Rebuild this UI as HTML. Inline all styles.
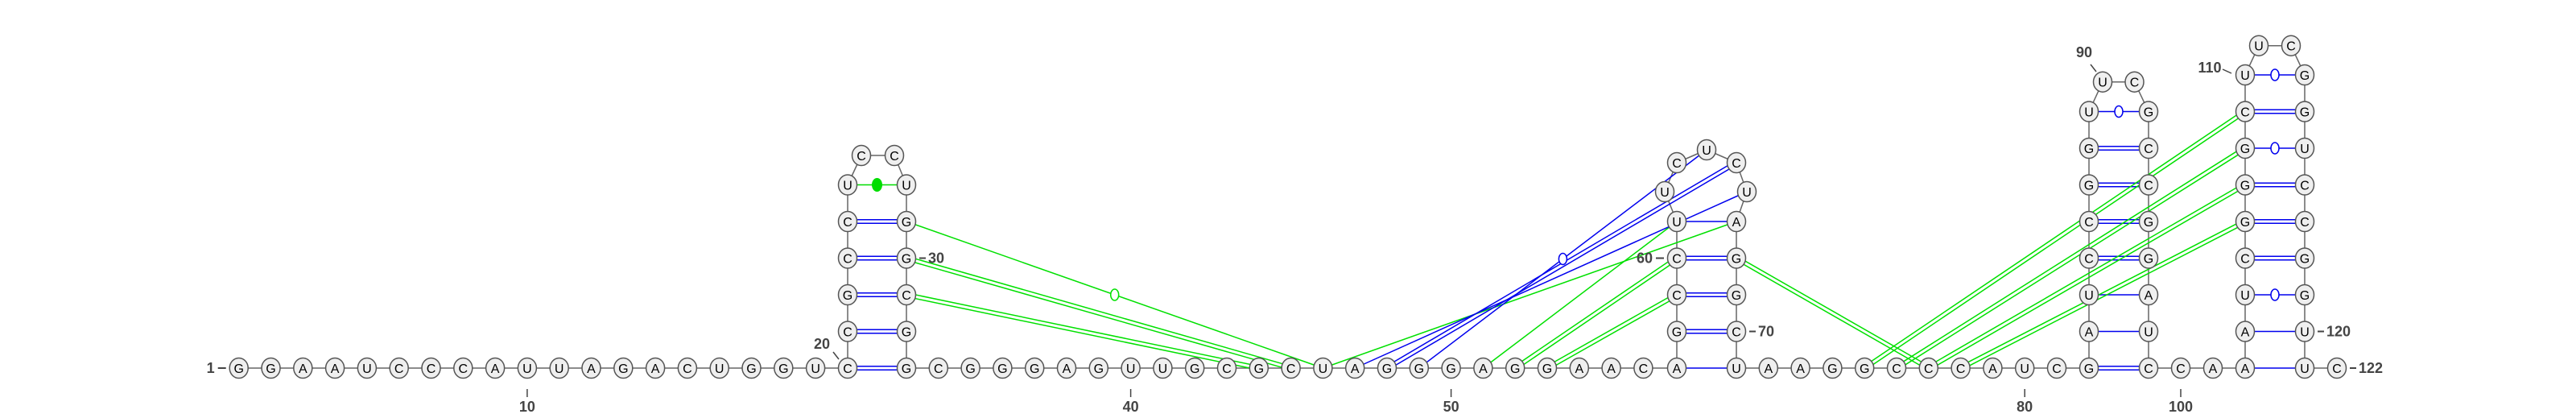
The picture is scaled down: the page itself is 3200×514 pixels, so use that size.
<!DOCTYPE html>
<html><head><meta charset="utf-8"><style>
html,body{margin:0;padding:0;background:#fff;}
svg{display:block;}
.nt text{font-family:"Liberation Sans",sans-serif;font-size:16px;fill:#000;}
.lbl{font-family:"Liberation Sans",sans-serif;font-size:18px;font-weight:bold;fill:#444;}
</style></head><body>
<svg id="chart" width="3200" height="514" viewBox="0 0 3200 514" xmlns="http://www.w3.org/2000/svg">
<g id="bb"></g>
<g id="pairs"></g>
<g id="nts"></g>
<g id="labels"></g>
</svg>
<script>
const sequence = "GGAAUCCCAUUAGACUGGU" + "CCGCCUCCUGGCGG" + "CGGGAGUUGCGCUAGGGAGGAACA" + "GCCUUCUCUAGGCU" + "AAGGCCCAUCG" + "AUCCGGUUCGCCGGAUC" + "CAAAUCGGGCUUCGGUCCGGUUC";
const stemPairs = [[20,33],[21,32],[22,31],[23,30],[24,29],[25,28],[57,71],[58,70],[59,69],[60,68],[61,67],
 [82,99],[83,98],[84,97],[85,96],[86,95],[87,94],[88,93],[89,92],
 [102,121],[103,120],[104,119],[105,118],[106,117],[107,116],[108,115],[109,114],[110,113]];
const greenPairs = [[29,46,"circle"],[30,45,"double"],[31,44,"double"],[46,67,"single"],[51,61,"single"],[52,60,"double"],[53,59,"double"],
 [68,77,"double"],[75,109,"double"],[76,108,"double"],[77,107,"double"],[78,106,"double"]];
const bluePairs = [[47,66,"single"],[48,65,"double"],[49,64,"circle"]];
const sideLabels = [[1,"1",-1],[30,"30",1],[60,"60",-1],[70,"70",1],[120,"120",1],[122,"122",1]];
const tickLabels = [[10,"10"],[40,"40"],[50,"50"],[80,"80"],[100,"100"]];

const STEP=39.8, ROW=45.5, BASE=457;
const P={};
function row(k){return BASE-k*ROW;}
for(let i=1;i<=20;i++)P[i]=[296.7+(i-1)*STEP,BASE];
function stem(l,r,lx,rx,n){for(let k=0;k<n;k++){P[l+k]=[lx,row(k)];P[r-k]=[rx,row(k)];}}
stem(20,33,1053,1126,6);
P[26]=[1070,193];P[27]=[1111,193];
for(let i=34;i<=57;i++)P[i]=[1126+(i-33)*STEP,BASE];
stem(57,71,2083,2157,5);
P[62]=[2068,238];P[63]=[2083,202];P[64]=[2120,186];P[65]=[2157,202];P[66]=[2170,238];
for(let i=72;i<=82;i++)P[i]=[2157+(i-71)*STEP,BASE];
stem(82,99,2595,2669,8);
P[90]=[2612,101.7];P[91]=[2651.5,101.7];
P[100]=[2709,BASE];P[101]=[2749,BASE];
stem(102,121,2789,2863,9);
P[111]=[2806,56.7];P[112]=[2846,56.7];
P[122]=[2903,BASE];

const NS="http://www.w3.org/2000/svg";
function mk(t,a,parent){const e=document.createElementNS(NS,t);for(const k in a)e.setAttribute(k,a[k]);parent.appendChild(e);return e;}
const bb=document.getElementById('bb'),pg=document.getElementById('pairs'),ng=document.getElementById('nts'),lg=document.getElementById('labels');
for(let i=1;i<122;i++){
  const l=mk('line',{x1:P[i][0],y1:P[i][1],x2:P[i+1][0],y2:P[i+1][1],stroke:'#666','stroke-width':1.5},bb);
  
  
}
function drawPair(i,j,color,style,name){
  const [x1,y1]=P[i],[x2,y2]=P[j];
  const g=mk('g',{},pg);
  
  
  if(style==='double'){
    const dx=x2-x1,dy=y2-y1,L=Math.hypot(dx,dy),ox=-dy/L*2.3,oy=dx/L*2.3;
    mk('line',{x1:x1+ox,y1:y1+oy,x2:x2+ox,y2:y2+oy,stroke:color,'stroke-width':1.5},g);
    mk('line',{x1:x1-ox,y1:y1-oy,x2:x2-ox,y2:y2-oy,stroke:color,'stroke-width':1.5},g);
  } else {
    mk('line',{x1:x1,y1:y1,x2:x2,y2:y2,stroke:color,'stroke-width':1.5},g);
    if(style==='circle')mk('ellipse',{cx:(x1+x2)/2,cy:(y1+y2)/2,rx:5,ry:7,fill:'#fff',stroke:color,'stroke-width':1.5},g);
    if(style==='filled')mk('ellipse',{cx:(x1+x2)/2,cy:(y1+y2)/2,rx:6,ry:8,fill:color,stroke:color,'stroke-width':1},g);
  }
}
for(const [i,j] of stemPairs){
  const s=sequence[i-1]+sequence[j-1];
  let st='single',col='#0000ee';
  if(s==='GC'||s==='CG')st='double';
  else if(s==='GU'||s==='UG')st='circle';
  else if(s==='AU'||s==='UA')st='single';
  else {st='filled';col='#00dd00';}
  drawPair(i,j,col,st,'base-pair-'+i+'-'+j);
}
for(const [i,j,st] of greenPairs)drawPair(i,j,'#00e000',st,'tertiary-green-'+i+'-'+j);
for(const [i,j,st] of bluePairs)drawPair(i,j,'#0000ee',st,'tertiary-blue-'+i+'-'+j);
for(let i=1;i<=122;i++){
  const g=mk('g',{class:'nt'},ng);
  
  
  mk('ellipse',{cx:P[i][0],cy:P[i][1],rx:11.5,ry:12.5,fill:'#efefef',stroke:'#555','stroke-width':1.5},g);
  const t=mk('text',{x:P[i][0],y:P[i][1]+6,'text-anchor':'middle'},g);
  t.textContent=sequence[i-1];
}
for(const [i,txt,side] of sideLabels){
  const [x,y]=P[i];
  const g=mk('g',{},lg);
  
  
  if(side>0){
    mk('line',{x1:x+16,y1:y,x2:x+24,y2:y,stroke:'#444','stroke-width':2},g);
    const t=mk('text',{x:x+27,y:y+6,class:'lbl'},g);t.textContent=txt;
  } else {
    mk('line',{x1:x-16,y1:y,x2:x-26,y2:y,stroke:'#444','stroke-width':2},g);
    const t=mk('text',{x:x-30,y:y+6,class:'lbl','text-anchor':'end'},g);t.textContent=txt;
  }
}
for(const [i,txt] of tickLabels){
  const x=P[i][0];
  const g=mk('g',{},lg);
  
  
  mk('line',{x1:x,y1:483,x2:x,y2:493,stroke:'#444','stroke-width':1.5},g);
  const t=mk('text',{x:x,y:511,class:'lbl','text-anchor':'middle'},g);t.textContent=txt;
}
const angled=[["20",1021,433,1035,437,1042,446],["90",2589,71,2597,80,2604,89],["110",2745,90,2761,86,2772,91]];
for(const [txt,tx,ty,ax,ay,bx,by] of angled){
  const g=mk('g',{},lg);
  
  
  mk('line',{x1:ax,y1:ay,x2:bx,y2:by,stroke:'#444','stroke-width':1.5},g);
  const t=mk('text',{x:tx,y:ty,class:'lbl','text-anchor':'middle'},g);t.textContent=txt;
}
</script>
</body></html>
